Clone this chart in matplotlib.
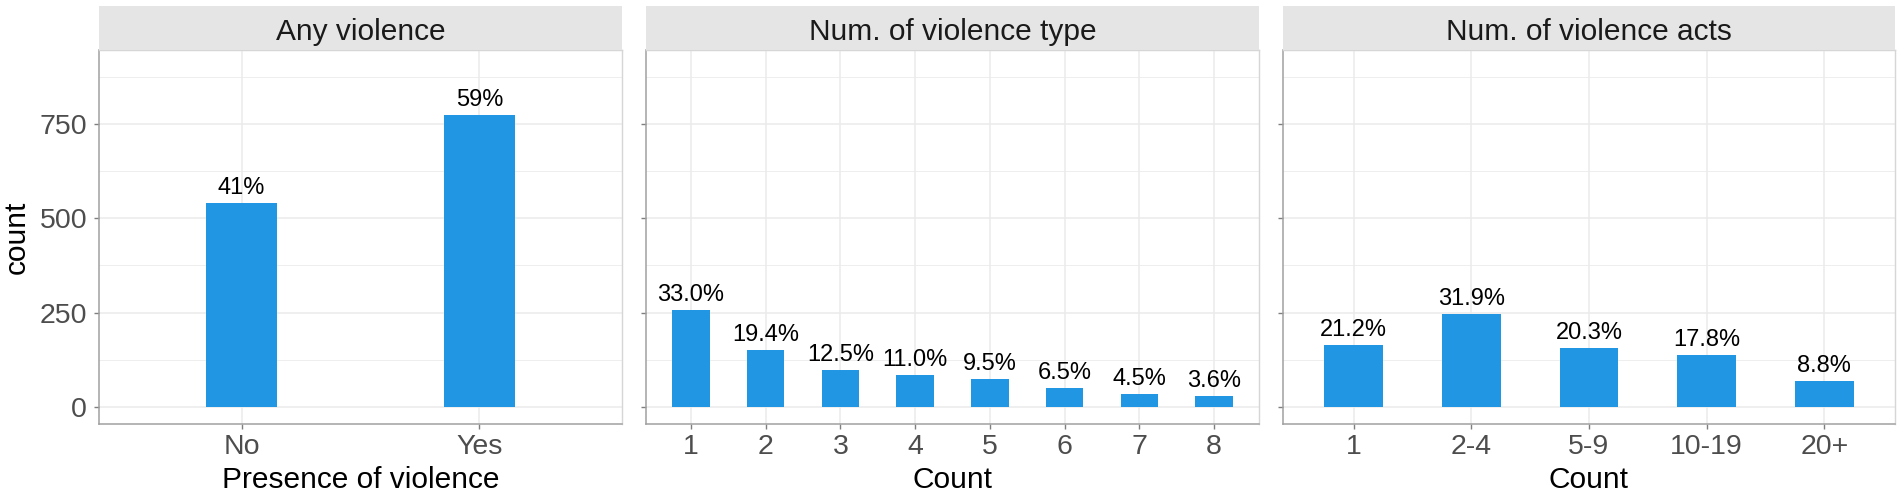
import matplotlib.pyplot as plt
from matplotlib.ticker import MultipleLocator

plt.rcParams['font.family'] = ['Liberation Sans', 'DejaVu Sans']

# Data
panel_titles = ["Any violence", "Num. of violence type", "Num. of violence acts"]
x_titles = ["Presence of violence", "Count", "Count"]

any_cats = ["No", "Yes"]
any_counts = [541, 775]
any_labels = ["41%", "59%"]

type_cats = ["1", "2", "3", "4", "5", "6", "7", "8"]
type_counts = [256, 150, 97, 85, 74, 50, 35, 28]
type_labels = ["33.0%", "19.4%", "12.5%", "11.0%", "9.5%", "6.5%", "4.5%", "3.6%"]

acts_cats = ["1", "2-4", "5-9", "10-19", "20+"]
acts_counts = [164, 247, 157, 138, 68]
acts_labels = ["21.2%", "31.9%", "20.3%", "17.8%", "8.8%"]

panels = [
    (any_cats, any_counts, any_labels),
    (type_cats, type_counts, type_labels),
    (acts_cats, acts_counts, acts_labels),
]

BLUE = "#2196E3"
W, H = 1902, 496
panel_px = [(99, 622), (646, 1259), (1283, 1895)]
panel_top, panel_bot, strip_top = 50, 424, 6
bar_widths = [0.3, 0.5, 0.5]

fig = plt.figure(figsize=(W / 100, H / 100), dpi=100)

for i, (cats, counts, labels) in enumerate(panels):
    left, right = panel_px[i]
    ax = fig.add_axes([left / W, (H - panel_bot) / H, (right - left) / W,
                       (panel_bot - panel_top) / H])
    sax = fig.add_axes([left / W, (H - panel_top) / H, (right - left) / W,
                        (panel_top - strip_top) / H])

    x = list(range(1, len(cats) + 1))
    ax.bar(x, counts, width=bar_widths[i], color=BLUE, zorder=3)
    for xi, c, lab in zip(x, counts, labels):
        ax.annotate(lab, (xi, c), xytext=(0, 6.5), textcoords="offset points",
                    ha="center", va="baseline", fontsize=17, color="black")

    ax.set_xlim(0.4, len(cats) + 0.6)
    ax.set_ylim(-45, 946)
    ax.set_xticks(x)
    ax.set_xticklabels(cats)
    ax.set_yticks([0, 250, 500, 750])
    ax.yaxis.set_minor_locator(MultipleLocator(125))

    ax.grid(which="major", color="#EBEBEB", lw=1.1)
    ax.grid(which="minor", axis="y", color="#EBEBEB", lw=0.6)
    ax.set_axisbelow(True)

    ax.tick_params(axis="both", which="major", length=3.5, width=1,
                   color="#7F7F7F", labelsize=20.5, labelcolor="#4D4D4D")
    ax.tick_params(axis="x", pad=4)
    ax.tick_params(axis="y", pad=5)
    ax.tick_params(which="minor", length=0)

    for side in ["left", "bottom"]:
        ax.spines[side].set_color("#A0A0A0")
        ax.spines[side].set_linewidth(1.1)
    for side in ["right", "top"]:
        ax.spines[side].set_color("#D6D6D6")
        ax.spines[side].set_linewidth(1.0)

    if i == 0:
        ax.set_ylabel("count", fontsize=21.5, color="black")
        ax.yaxis.set_label_coords((17 - left) / (right - left), 0.5)
        ax.yaxis.label.set_va("center")
    else:
        ax.tick_params(axis="y", labelleft=False)

    ax.set_xlabel(x_titles[i], fontsize=21.5, color="black")
    ax.xaxis.set_label_coords(0.5, (panel_bot - 466) / (panel_bot - panel_top))

    # facet strip
    sax.set_facecolor("#E5E5E5")
    sax.set_xticks([])
    sax.set_yticks([])
    for s in sax.spines.values():
        s.set_visible(False)
    sax.text(0.5, (panel_top - 39.5) / (panel_top - strip_top), panel_titles[i],
             ha="center", va="baseline", fontsize=21.5, color="#1A1A1A",
             transform=sax.transAxes)

fig.savefig("out.png", dpi=100)
